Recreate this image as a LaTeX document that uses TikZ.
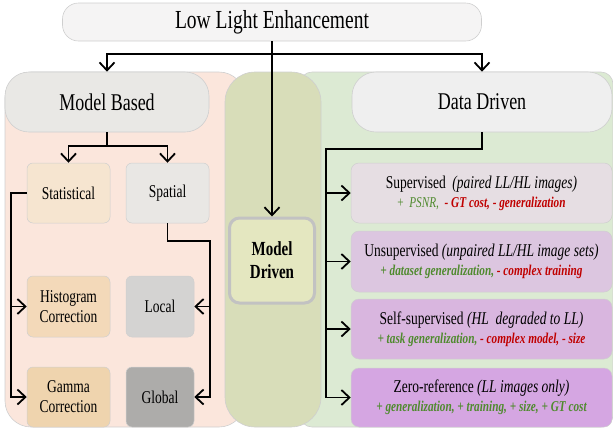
\documentclass[tikz,border=0pt]{standalone}
\usepackage{fontspec}
\setmainfont{Liberation Serif}[FakeStretch=0.75]
\usetikzlibrary{arrows.meta}
\definecolor{peach}{HTML}{FBE6DC}
\definecolor{olive}{HTML}{D8DDB9}
\definecolor{lgreen}{HTML}{DCEAD3}
\definecolor{edge}{HTML}{CFCFCF}
\definecolor{topfill}{HTML}{F5F4F4}
\definecolor{mbfill}{HTML}{E9E8E5}
\definecolor{ddfill}{HTML}{EFEFEF}
\definecolor{mdfill}{HTML}{E4E7C0}
\definecolor{mdedge}{HTML}{C2C2C2}
\definecolor{statfill}{HTML}{F6E5D0}
\definecolor{spatfill}{HTML}{E9E7E4}
\definecolor{histfill}{HTML}{F3D9B9}
\definecolor{localfill}{HTML}{D4D3D2}
\definecolor{gammafill}{HTML}{EFD4AE}
\definecolor{globalfill}{HTML}{ADACAA}
\definecolor{supfill}{HTML}{E6DEE3}
\definecolor{unsupfill}{HTML}{DCC6E0}
\definecolor{selffill}{HTML}{D9B6DF}
\definecolor{zerofill}{HTML}{D5A6E2}
\definecolor{pos}{HTML}{4F8A2E}
\definecolor{neg}{HTML}{C00000}
\newcommand{\pl}[1]{{\color{pos}\bfseries\itshape #1}}
\newcommand{\mn}[1]{{\color{neg}\bfseries\itshape #1}}
\begin{document}
\begin{tikzpicture}[x=1pt,y=-1pt,
  region/.style={draw=edge, line width=0.6pt},
  bigbox/.style={draw=edge, line width=0.6pt, rounded corners=24pt, inner sep=0pt, align=center,
    font=\fontsize{24}{26}\selectfont},
  smallbox/.style={draw=edge, line width=0.5pt, rounded corners=6pt, inner sep=0pt, align=center,
    minimum height=60pt, font=\fontsize{18}{20}\selectfont},
  ddbox/.style={draw=edge, line width=0.5pt, rounded corners=8pt, inner sep=0pt, align=center,
    minimum width=261pt, font=\fontsize{18}{19}\selectfont},
  ln/.style={line width=1.8pt},
  arr/.style={line width=1.8pt, -{Straight Barb[length=8pt,width=15pt]}}]
\useasboundingbox (0,0) rectangle (613,432);
% background regions
\draw[region, fill=peach, rounded corners=26pt] (5,72) rectangle (245,427);
\draw[region, fill=lgreen, rounded corners=12pt] (300,72) rectangle (613,427);
\draw[region, fill=olive, rounded corners=30pt] (225,72) rectangle (321,427);
% nodes
\node[bigbox, rounded corners=16pt, fill=topfill, minimum width=419pt, minimum height=38pt,
  font=\fontsize{26}{28}\selectfont] (top) at (272,22) {Low Light Enhancement};
\node[bigbox, fill=mbfill, minimum width=204pt, minimum height=60pt] (mb) at (107,102) {Model Based};
\node[bigbox, fill=ddfill, minimum width=260pt, minimum height=60pt] (dd) at (482,102) {Data Driven};
\node[draw=mdedge, line width=3pt, rounded corners=10pt, fill=mdfill, minimum width=85pt,
  minimum height=85pt, inner sep=0pt, align=center, font=\fontsize{20}{23}\selectfont\bfseries]
  (md) at (272,260.5) {Model\\Driven};
\node[smallbox, fill=statfill, minimum width=83pt] (stat) at (68.5,193) {Statistical};
\node[smallbox, fill=spatfill, minimum width=83pt] (spat) at (167.5,193) {Spatial};
\node[smallbox, fill=histfill, minimum width=83pt, minimum height=61pt] (hist) at (68.5,306.5) {Histogram\\Correction};
\node[smallbox, fill=localfill, minimum width=68pt, minimum height=61pt] (local) at (160,306.5) {Local};
\node[smallbox, fill=gammafill, minimum width=83pt] (gamma) at (68.5,397) {Gamma\\Correction};
\node[smallbox, fill=globalfill, minimum width=68pt] (global) at (160,397) {Global};
\node[ddbox, fill=supfill, minimum height=60pt] (sup) at (481.5,193)
  {Supervised \ \textit{(paired LL/HL images)}\\
   {\fontsize{15}{17}\selectfont{\color{pos}+ \ \textit{PSNR,}} \ \mn{- GT cost, - generalization}}};
\node[ddbox, fill=unsupfill, minimum height=61pt] (unsup) at (481.5,261.5)
  {Unsupervised \textit{(unpaired LL/HL image sets)}\\
   {\fontsize{15}{17}\selectfont\pl{+ dataset generalization,} \mn{- complex training}}};
\node[ddbox, fill=selffill, minimum height=60pt] (self) at (481.5,329)
  {Self-supervised \textit{(HL\ \ degraded to LL)}\\
   {\fontsize{15}{17}\selectfont\pl{+ task generalization,} \mn{- complex model, - size}}};
\node[ddbox, fill=zerofill, minimum height=59pt] (zero) at (481.5,397.5)
  {Zero-reference \textit{(LL images only)}\\
   {\fontsize{15}{17}\selectfont\pl{+ generalization, + training, + size, + GT cost}}};
% connectors
\coordinate (hb) at (272,54);
\draw[arr] (top.south) -- (md.north);
\draw[arr] (hb) -| (mb.north);
\draw[arr] (hb) -| (dd.north);
\coordinate (mbj) at (107,146);
\draw[ln] (mb.south) -- (mbj);
\draw[arr] (mbj) -| (stat.north);
\draw[arr] (mbj) -| (spat.north);
\coordinate (sl) at (11,193);
\draw[arr] (stat.west) -- (sl) |- (hist.west);
\draw[arr] (stat.west) -- (sl) |- (gamma.west);
\coordinate (sj) at (210,241);
\draw[arr] (spat.south) |- (sj) |- (local.east);
\draw[arr] (spat.south) |- (sj) |- (global.east);
\coordinate (dj) at (326,149);
\draw[arr] (dd.south) |- (dj) |- (sup.west);
\draw[arr] (dd.south) |- (dj) |- (unsup.west);
\draw[arr] (dd.south) |- (dj) |- (self.west);
\draw[arr] (dd.south) |- (dj) |- (zero.west);
\end{tikzpicture}
\end{document}
